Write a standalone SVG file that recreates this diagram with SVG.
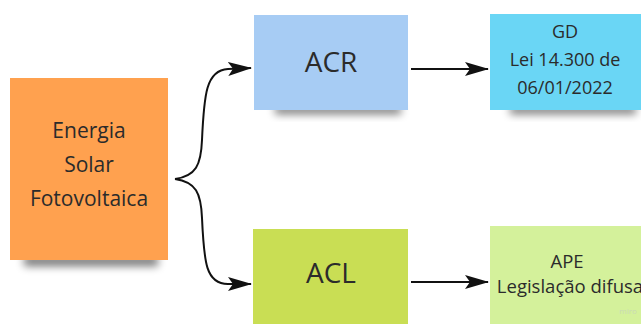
<svg xmlns="http://www.w3.org/2000/svg" width="641" height="324" viewBox="0 0 641 324">
<style>
text{font-family:"Open Sans","Noto Sans","DejaVu Sans",sans-serif;fill:#2b2b2b;text-anchor:middle}
.conn{fill:none;stroke:#111;stroke-width:2}
.shadow{fill:#000;opacity:0.55;filter:url(#blur)}
</style>
<defs>
<filter id="blur" x="-20%" y="-100%" width="140%" height="300%"><feGaussianBlur stdDeviation="4"/></filter>
<marker id="ah" viewBox="0 0 24 14" refX="23" refY="7" markerWidth="24" markerHeight="14" markerUnits="userSpaceOnUse" orient="auto">
<path d="M0,0 L24,7 L0,14 L5,7 Z" fill="#111"/>
</marker>
</defs>
<g id="n-energia">
<rect class="shadow" x="24" y="256" width="134" height="10"/>
<rect x="10" y="78" width="158" height="182" fill="#FFA14F"/>
<text font-size="21"><tspan x="89" y="138">Energia</tspan><tspan x="89" y="172">Solar</tspan><tspan x="89" y="206">Fotovoltaica</tspan></text>
</g>
<g id="n-acr">
<rect class="shadow" x="275" y="106" width="126" height="8"/>
<rect x="254" y="15" width="154" height="95" fill="#A7CCF4"/>
<text x="331" y="72" font-size="28">ACR</text>
</g>
<g id="n-gd">
<rect class="shadow" x="510" y="106" width="126" height="8"/>
<rect x="490" y="14" width="151" height="96" fill="#6AD6F5"/>
<text font-size="18"><tspan x="565" y="38">GD</tspan><tspan x="565" y="66">Lei 14.300 de</tspan><tspan x="565" y="94">06/01/2022</tspan></text>
</g>
<g id="n-acl">
<rect x="253" y="229" width="155" height="100" fill="#C9DE54"/>
<text x="331" y="283" font-size="28">ACL</text>
</g>
<g id="n-ape">
<rect x="490" y="226" width="151" height="103" fill="#D4F19B"/>
<text font-size="18.5"><tspan x="567" y="268">APE</tspan><tspan x="570" y="293">Legislação difusa</tspan></text>
<text x="628" y="314" font-size="8" style="fill:#c9d9b5">miro</text>
</g>
<g id="connectors">
<path class="conn" marker-end="url(#ah)" d="M175,179 C196,176 201,165 202,140 C204,95 206,70 228,69 L251,68"/>
<path class="conn" marker-end="url(#ah)" d="M175,179 C196,182 201,193 202,218 C204,263 206,284 228,284 L251,284"/>
<path class="conn" marker-end="url(#ah)" d="M411,69 L488,69"/>
<path class="conn" marker-end="url(#ah)" d="M411,282 L488,282"/>
</g>
</svg>
